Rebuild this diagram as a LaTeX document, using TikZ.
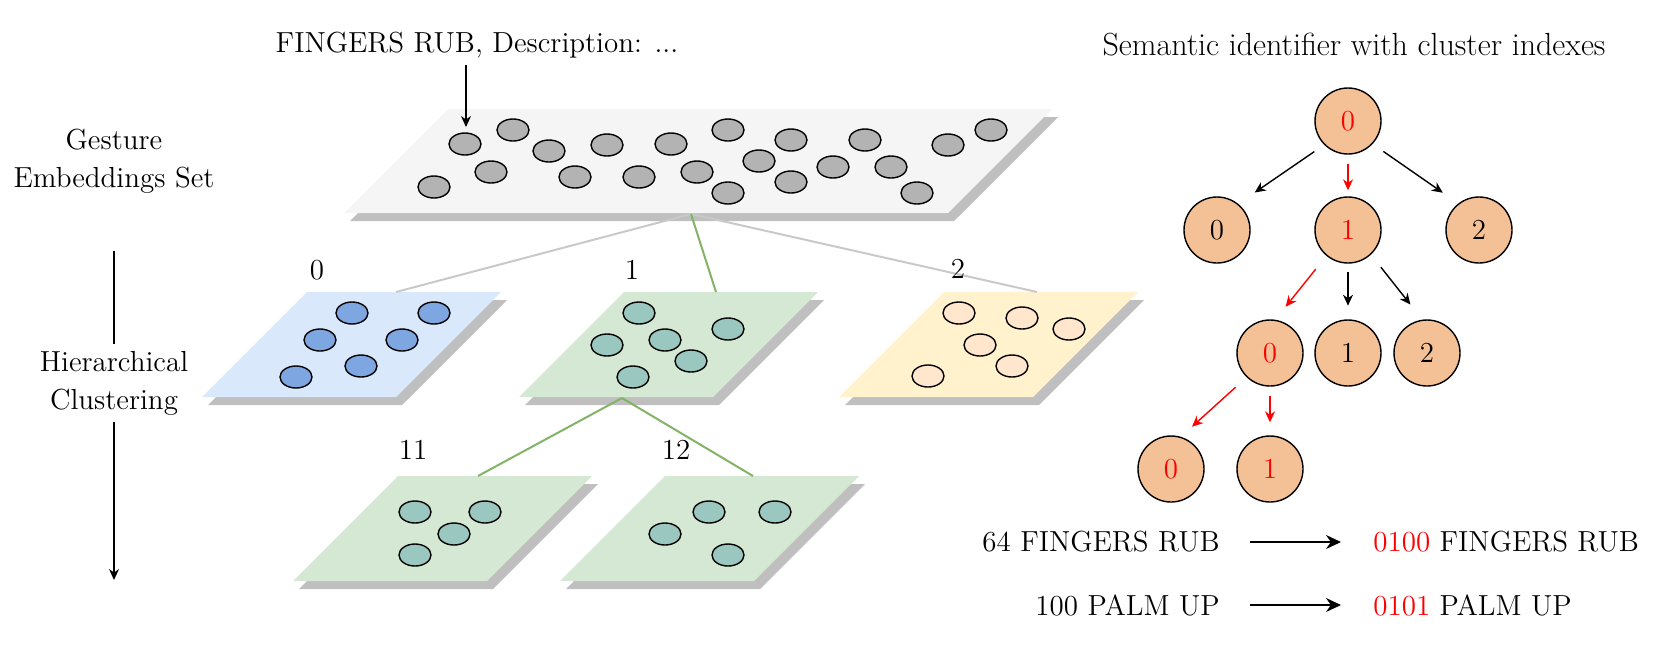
\documentclass[tikz,border=0pt]{standalone}
\usepackage{tikz}
\usetikzlibrary{positioning,calc,arrows.meta,shapes.geometric}
\definecolor{shadowgray}{HTML}{BFBFBF}
\definecolor{topgray}{HTML}{F5F5F5}
\definecolor{dotgray}{HTML}{B3B3B3}
\definecolor{blueplate}{HTML}{DAE8FC}
\definecolor{bluedot}{HTML}{7EA6E0}
\definecolor{greenplate}{HTML}{D5E8D4}
\definecolor{tealdot}{HTML}{9AC7BF}
\definecolor{yellowplate}{HTML}{FFF2CC}
\definecolor{peachdot}{HTML}{FFE6CC}
\definecolor{treepeach}{HTML}{F4C096}
\definecolor{linegray}{HTML}{C9C9C9}
\definecolor{linegreen}{HTML}{82B366}
% plate: x, y of top left corner, width, height, fill
\newcommand{\gplate}[5]{%
  \fill[shadowgray] (#1+6,#2+8) -- ++(#3,0) -- ++(-#4,#4) -- ++(-#3,0) -- cycle;
  \fill[#5] (#1,#2) -- ++(#3,0) -- ++(-#4,#4) -- ++(-#3,0) -- cycle;}

\begin{document}
\begin{tikzpicture}[x=0.5pt,y=-0.5pt,font=\fontsize{14.5}{19}\selectfont,
    dot/.style={ellipse,draw,line width=0.7pt,minimum width=16pt,minimum height=11pt,inner sep=0pt},
    tree node/.style={circle,draw,fill=treepeach,line width=0.7pt,minimum size=33pt,inner sep=0pt},
    link/.style={line width=1pt},
    arr/.style={-{Stealth[length=5.5pt,width=5pt]},line width=0.7pt},
    map arrow/.style={-{Stealth[length=7.5pt,width=7pt]},line width=0.8pt}]
\useasboundingbox (0,0) rectangle (1661,650);

%Plates
    \gplate{448}{109}{604}{104}{topgray}
    \gplate{307}{292}{194}{105}{blueplate}
    \gplate{624}{292}{194}{105}{greenplate}
    \gplate{944}{292}{194}{105}{yellowplate}
    \gplate{398}{476}{194}{105}{greenplate}
    \gplate{665}{476}{194}{105}{greenplate}

%Links between clusters
    \coordinate (hub) at (691,214);
    \coordinate (hub1) at (622,398);
    \coordinate (p0) at (396,292);
    \coordinate (p1) at (716,292);
    \coordinate (p2) at (1037,292);
    \coordinate (p11) at (478,476);
    \coordinate (p12) at (753,476);
    \draw[link,linegray] (hub) -- (p0);
    \draw[link,linegray] (hub) -- (p2);
    \draw[link,linegreen] (hub) -- (p1);
    \draw[link,linegreen] (hub1) -- (p11);
    \draw[link,linegreen] (hub1) -- (p12);

%Embeddings
    \foreach \x/\y [count=\i] in {465/144,513/130,549/151,607/145,671/144,728/130,791/140,865/140,948/145,991/130,
        434/187,491/172,575/177,639/177,697/172,759/161,833/167,891/167,728/193,791/182,917/193}
        \node[dot,fill=dotgray] (g\i) at (\x,\y) {};
    \foreach \x/\y [count=\i] in {352/313,434/313,320/340,402/340,361/366,296/377}
        \node[dot,fill=bluedot] (u\i) at (\x,\y) {};
    \foreach \x/\y [count=\i] in {639/313,728/329,607/345,665/340,691/361,633/377}
        \node[dot,fill=tealdot] (v\i) at (\x,\y) {};
    \foreach \x/\y [count=\i] in {959/313,1022/318,1069/329,980/345,1012/366,928/376}
        \node[dot,fill=peachdot] (w\i) at (\x,\y) {};
    \foreach \x/\y [count=\i] in {415/512,485/512,454/534,415/555}
        \node[dot,fill=tealdot] (s\i) at (\x,\y) {};
    \foreach \x/\y [count=\i] in {709/512,775/512,665/534,728/555}
        \node[dot,fill=tealdot] (t\i) at (\x,\y) {};

%Labels
    \node (desc) at (477,45) {FINGERS RUB, Description: ...};
    \coordinate (inp) at (466,127);
    \draw[arr] (desc.south -| inp) -- (inp);
    \node[align=center] (gesture) at (114,161) {Gesture\\Embeddings Set};
    \node[align=center] (hc) at (114,383) {Hierarchical\\Clustering};
    \coordinate (hctop) at (114,251);
    \coordinate (hcend) at (114,580);
    \draw[line width=0.7pt] (hctop) -- (hc.north);
    \draw[arr] (hc.south) -- (hcend);
    \node (lbl0) at (317,270) {0};
    \node (lbl1) at (632,270) {1};
    \node (lbl2) at (958,269) {2};
    \node (lbl11) at (413,450) {11};
    \node (lbl12) at (676,450) {12};

%Tree
    \node[font=\fontsize{16}{19}\selectfont] (title) at (1354,45) {Semantic identifier with cluster indexes};
    \node[tree node,text=red] (r) at (1348,121) {0};
    \node[tree node] (a0) at (1217,230) {0};
    \node[tree node,text=red] (a1) at (1348,230) {1};
    \node[tree node] (a2) at (1479,230) {2};
    \node[tree node,text=red] (b0) at (1270,353) {0};
    \node[tree node] (b1) at (1348,353) {1};
    \node[tree node] (b2) at (1427,353) {2};
    \node[tree node,text=red] (c0) at (1171,469) {0};
    \node[tree node,text=red] (c1) at (1270,469) {1};

    \draw[arr,shorten <=6pt,shorten >=10pt] (r.225) -- (a0.51);
    \draw[arr,red,shorten <=4.5pt,shorten >=3pt] (r.south) -- (a1.north);
    \draw[arr,shorten <=6.5pt,shorten >=9.4pt] (r.317) -- (a2.128);
    \draw[arr,red,shorten <=8.5pt,shorten >=8.3pt] (a1.230) -- (b0.81);
    \draw[arr,shorten <=3.9pt,shorten >=6.8pt] (a1.south) -- (b1.north);
    \draw[arr,shorten <=8pt,shorten >=9.6pt] (a1.313) -- (b2.98);
    \draw[arr,red,shorten <=7.4pt,shorten >=7.5pt] (b0.226) -- (c0.73);
    \draw[arr,red,shorten <=4.4pt,shorten >=6.5pt] (b0.south) -- (c1.north);

%Mapping
    \node[anchor=east,inner sep=0pt] (m1) at (1220,542) {64 FINGERS RUB};
    \node[anchor=east,inner sep=0pt] (m2) at (1220,605) {100 PALM UP};
    \node[anchor=west,inner sep=0pt] (n1) at (1373,542) {\textcolor{red}{0100} FINGERS RUB};
    \node[anchor=west,inner sep=0pt] (n2) at (1373,605) {\textcolor{red}{0101} PALM UP};
    \draw[map arrow,shorten <=15pt,shorten >=16pt] (m1.east) -- (m1.east -| n1.west);
    \draw[map arrow,shorten <=15pt,shorten >=16pt] (m2.east) -- (m2.east -| n2.west);
\end{tikzpicture}
\end{document}
